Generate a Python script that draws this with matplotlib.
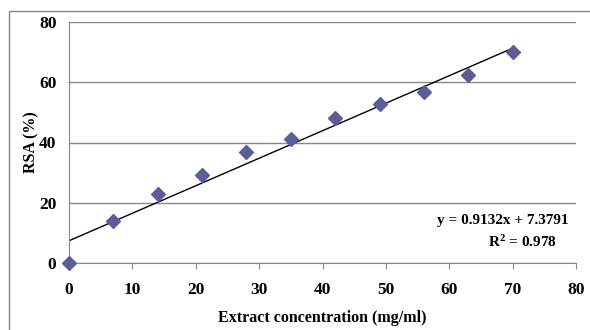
import matplotlib.pyplot as plt
import numpy as np
from matplotlib.patches import Rectangle

conc = [0, 7, 14, 21, 28, 35, 42, 49, 56, 63, 70]
rsa = [0, 14.0, 22.9, 29.1, 36.8, 41.0, 48.0, 52.8, 56.9, 62.5, 70.0]
slope = 0.9132
intercept = 7.3791
r2 = 0.978

plt.rcParams["font.family"] = ["Liberation Serif", "DejaVu Serif"]
plt.rcParams["font.weight"] = "bold"
plt.rcParams["mathtext.fontset"] = "custom"
plt.rcParams["mathtext.rm"] = "Liberation Serif:bold"
plt.rcParams["mathtext.default"] = "rm"

fig = plt.figure(figsize=(5.9, 3.3), dpi=100)
ax = fig.add_axes([69 / 590, 1 - 263 / 330, (576 - 69) / 590, (263 - 22) / 330])

# outer frame like the spreadsheet chart area
fig.patches.append(Rectangle((9 / 590, -0.05), 1.0, 1 - 11 / 330 + 0.05,
                             transform=fig.transFigure, fill=False,
                             edgecolor="#888888", linewidth=1.0))

ax.scatter(conc, rsa, marker="D", s=50, color="#5b5d9b", zorder=3,
           clip_on=False)

xs = np.array([conc[0], conc[-1]])
ax.plot(xs, slope * xs + intercept, color="black", linewidth=1.0, zorder=2)

ax.set_xlim(0, 80)
ax.set_ylim(0, 80)
ax.set_xticks(range(0, 81, 10))
ax.set_yticks(range(0, 81, 20))
ax.yaxis.grid(True, color="#888888", linewidth=1.0)
ax.set_axisbelow(True)

for side in ["top", "right"]:
    ax.spines[side].set_visible(False)
for side in ["left", "bottom"]:
    ax.spines[side].set_color("#888888")
ax.tick_params(axis="x", direction="out", length=4, color="#888888",
               labelsize=12.5, pad=10)
ax.tick_params(axis="y", length=0, labelsize=12.5, pad=9)
for lab in ax.get_xticklabels() + ax.get_yticklabels():
    lab.set_fontweight("bold")

ax.set_xlabel("Extract concentration (mg/ml)", fontsize=11.5,
              fontweight="bold", labelpad=8)
ax.set_ylabel("RSA (%)", fontsize=11.5, fontweight="bold", labelpad=0)

ax.text(0.985, 0.175, f"y = {slope}x + {intercept}", transform=ax.transAxes,
        ha="right", va="center", fontsize=11, fontweight="bold")
ax.text(0.895, 0.085, f"R$^2$ = {r2}", transform=ax.transAxes,
        ha="center", va="center", fontsize=11, fontweight="bold")

fig.savefig("out.png", dpi=100, facecolor="white")
